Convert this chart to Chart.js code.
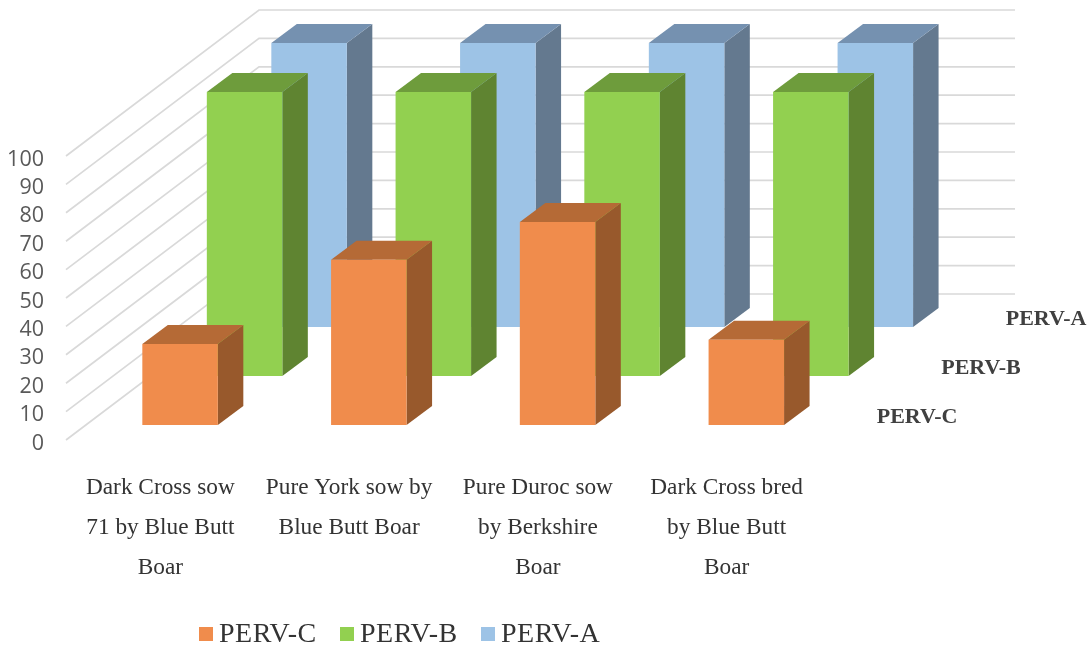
<!DOCTYPE html>
<html>
<head>
<meta charset="utf-8">
<style>
html, body { margin: 0; padding: 0; background: #fff; }
#wrap { width: 1091px; height: 648px; }
</style>
<script src="https://cdn.jsdelivr.net/npm/chart.js@4"></script>
</head>
<body>
<div id="wrap"><canvas id="myChart"></canvas></div>
<script>
const categories = [
    ['Dark Cross sow', '71 by Blue Butt', 'Boar'],
    ['Pure York sow by', 'Blue Butt Boar'],
    ['Pure Duroc sow', 'by Berkshire', 'Boar'],
    ['Dark Cross bred', 'by Blue Butt', 'Boar']
];
const pervC = [28.5, 58.2, 71.5, 30];
const pervB = [100, 100, 100, 100];
const pervA = [100, 100, 100, 100];
const seriesNames = ['PERV-C', 'PERV-B', 'PERV-A'];

const frontColors = ['#f08c4c', '#92d050', '#9dc3e6'];
const topColors = ['#b56a36', '#6e9c3c', '#7591b0'];
const sideColors = ['#98592c', '#5f8431', '#64798f'];

// how far each row of bars sits back from the front of the floor
const rowOffsets = [{dx: 19.7, dy: -15}, {dx: 84.2, dy: -64}, {dx: 148.7, dy: -113}];
const barDepth = {dx: 25.5, dy: -19};
const wallOffset = {dx: 193, dy: -146};

const serif = '"Liberation Serif", "Times New Roman", serif';

const fakeDepth = {
    id: 'fakeDepth',
    // floor/side lines and the back wall lines
    beforeDatasetsDraw(chart) {
        const {ctx, chartArea, scales} = chart;
        ctx.save();
        ctx.strokeStyle = '#d9d9d9';
        ctx.lineWidth = 1.7;
        scales.y.ticks.forEach(t => {
            const y = scales.y.getPixelForValue(t.value);
            ctx.beginPath();
            ctx.moveTo(chartArea.left, y);
            ctx.lineTo(chartArea.left + wallOffset.dx, y + wallOffset.dy);
            ctx.lineTo(chartArea.right + wallOffset.dx + 1, y + wallOffset.dy);
            ctx.stroke();
        });
        ctx.restore();
    },
    // shift the whole row back, then add the side and top of each bar
    beforeDatasetDraw(chart, args) {
        const {ctx} = chart;
        const row = rowOffsets[args.index];
        ctx.save();
        ctx.translate(row.dx, row.dy);
        args.meta.data.forEach(bar => {
            const left = bar.x - bar.width / 2;
            const right = bar.x + bar.width / 2;
            ctx.fillStyle = sideColors[args.index];
            ctx.beginPath();
            ctx.moveTo(right, bar.y);
            ctx.lineTo(right + barDepth.dx, bar.y + barDepth.dy);
            ctx.lineTo(right + barDepth.dx, bar.base + barDepth.dy);
            ctx.lineTo(right, bar.base);
            ctx.closePath();
            ctx.fill();
            ctx.fillStyle = topColors[args.index];
            ctx.beginPath();
            ctx.moveTo(left, bar.y);
            ctx.lineTo(left + barDepth.dx, bar.y + barDepth.dy);
            ctx.lineTo(right + barDepth.dx, bar.y + barDepth.dy);
            ctx.lineTo(right, bar.y);
            ctx.closePath();
            ctx.fill();
        });
    },
    afterDatasetDraw(chart) {
        chart.ctx.restore();
    },
    afterDraw(chart) {
        const {ctx, chartArea, scales} = chart;
        ctx.save();
        // series names along the depth axis
        ctx.font = 'bold 22px ' + serif;
        ctx.fillStyle = '#404040';
        ctx.textBaseline = 'middle';
        ctx.textAlign = 'left';
        seriesNames.forEach((name, i) => {
            const base = scales.y.getPixelForValue(0) + rowOffsets[i].dy;
            ctx.fillText(name, chartArea.right + rowOffsets[i].dx + 36, base - 8);
        });
        // legend row
        const legendX = [199, 340, 481];
        ctx.font = '28px ' + serif;
        ctx.letterSpacing = '0.5px';
        seriesNames.forEach((name, i) => {
            ctx.fillStyle = frontColors[i];
            ctx.fillRect(legendX[i], 627, 14, 14);
            ctx.fillStyle = '#333333';
            ctx.fillText(name, legendX[i] + 20, 635);
        });
        ctx.restore();
    }
};

new Chart('myChart', {
    type: 'bar',
    data: {
        labels: categories,
        datasets: [
            {label: seriesNames[0], data: pervC, backgroundColor: frontColors[0]},
            {label: seriesNames[1], data: pervB, backgroundColor: frontColors[1]},
            {label: seriesNames[2], data: pervA, backgroundColor: frontColors[2]}
        ]
    },
    options: {
        responsive: true,
        maintainAspectRatio: false,
        animation: false,
        layout: {padding: {top: 156, right: 270, left: 0, bottom: 0}},
        datasets: {bar: {grouped: false, barPercentage: 0.4, categoryPercentage: 1, clip: false}},
        plugins: {legend: {display: false}, tooltip: {enabled: false}},
        scales: {
            x: {
                grid: {display: false},
                border: {display: false},
                afterFit: scale => { scale.height = 208; },
                ticks: {
                    autoSkip: false,
                    maxRotation: 0,
                    padding: 20,
                    color: '#333333',
                    font: {family: serif, size: 23.3, lineHeight: 40 / 23.3}
                }
            },
            y: {
                min: 0,
                max: 100,
                grid: {display: false},
                border: {display: false},
                afterFit: scale => { scale.width = 66; },
                ticks: {
                    stepSize: 10,
                    padding: 14,
                    color: '#595959',
                    // blank first line nudges the numbers down a little
                    callback: value => ['', String(value)],
                    font: {family: '"Open Sans", sans-serif', size: 21.5, lineHeight: 0.33}
                }
            }
        }
    },
    plugins: [fakeDepth]
});
</script>
</body>
</html>
